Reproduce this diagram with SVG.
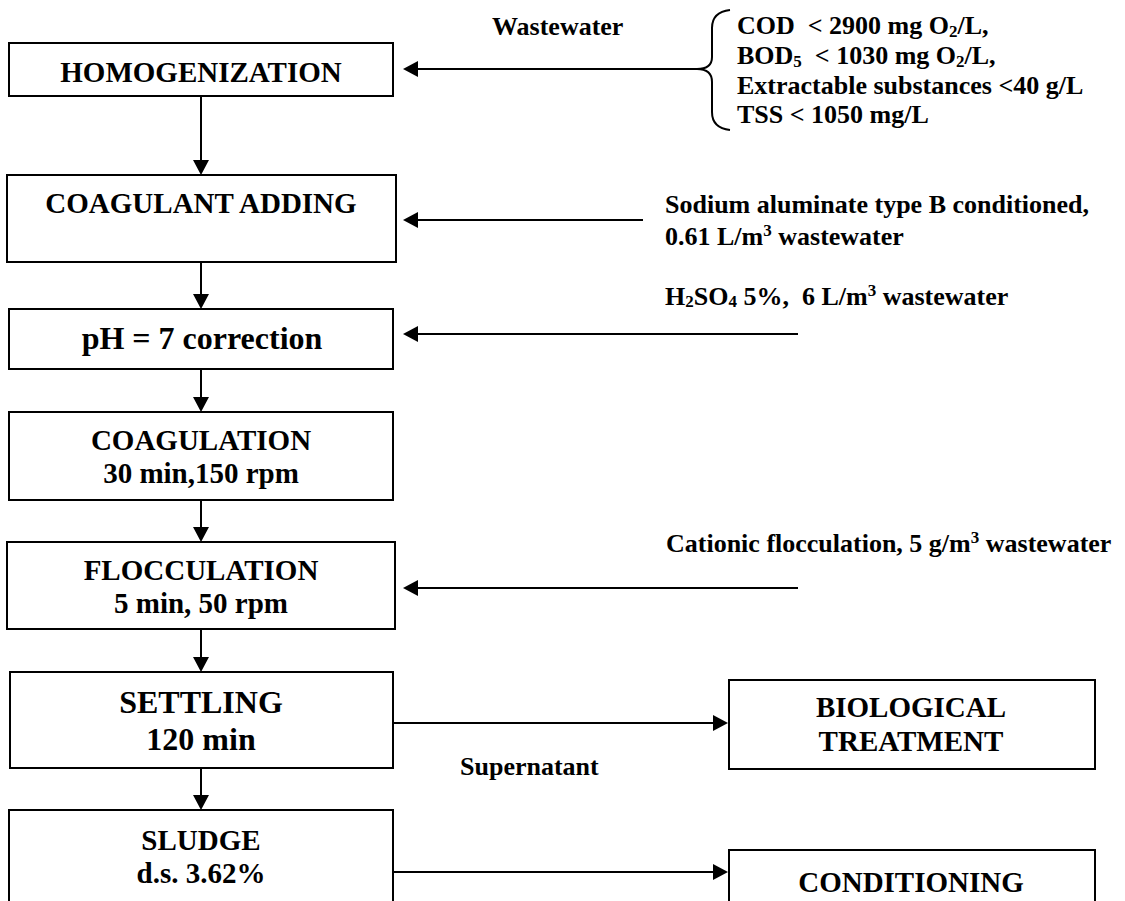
<svg xmlns="http://www.w3.org/2000/svg" width="1125" height="901" viewBox="0 0 1125 901">
<style>
text{font-family:"Liberation Serif","Times New Roman",serif;font-weight:bold;fill:#000;white-space:pre}
.box{fill:#fff;stroke:#000;stroke-width:2}
.n{font-size:29px;text-anchor:middle}
.big{font-size:32px;text-anchor:middle}
.lbl{font-size:26px}
.c{fill:none;stroke:#000;stroke-width:2}
.sub{font-size:17px}
</style>
<defs>
<marker id="ah" markerUnits="userSpaceOnUse" markerWidth="15" markerHeight="16" viewBox="0 0 15 16" refX="11" refY="8" orient="auto">
<path d="M0,0 L15,8 L0,16 Z" fill="#000"/>
</marker>
</defs>
<rect width="1125" height="901" fill="#fff"/>

<g id="connectors">
<line class="c" x1="201" y1="96" x2="201" y2="171" marker-end="url(#ah)"/>
<line class="c" x1="201" y1="262" x2="201" y2="305" marker-end="url(#ah)"/>
<line class="c" x1="201" y1="369" x2="201" y2="408" marker-end="url(#ah)"/>
<line class="c" x1="201" y1="500" x2="201" y2="538" marker-end="url(#ah)"/>
<line class="c" x1="201" y1="629" x2="201" y2="668" marker-end="url(#ah)"/>
<line class="c" x1="201" y1="768" x2="201" y2="806" marker-end="url(#ah)"/>
<line class="c" x1="697" y1="69" x2="407" y2="69" marker-end="url(#ah)"/>
<line class="c" x1="643" y1="220" x2="407" y2="220" marker-end="url(#ah)"/>
<line class="c" x1="798" y1="334" x2="407" y2="334" marker-end="url(#ah)"/>
<line class="c" x1="798" y1="588" x2="407" y2="588" marker-end="url(#ah)"/>
<line class="c" x1="393" y1="723" x2="724" y2="723" marker-end="url(#ah)"/>
<line class="c" x1="393" y1="872" x2="724" y2="872" marker-end="url(#ah)"/>
<path class="c" d="M730,10 Q712,12 712,28 L712,57 Q712,69 697,69 Q712,69 712,82 L712,112 Q712,128 730,130"/>
</g>

<g id="homogenization">
<rect class="box" x="9" y="43" width="384" height="53"/>
<text class="n" x="201" y="82">HOMOGENIZATION</text>
</g>
<g id="coagulant-adding">
<rect class="box" x="7" y="175" width="389" height="87"/>
<text class="n" x="201" y="213">COAGULANT ADDING</text>
</g>
<g id="ph-correction">
<rect class="box" x="9" y="309" width="384" height="60"/>
<text class="big" x="202" y="349">pH = 7 correction</text>
</g>
<g id="coagulation">
<rect class="box" x="9" y="412" width="384" height="88"/>
<text class="n" x="201" y="450">COAGULATION</text>
<text class="n" x="201" y="483">30 min,150 rpm</text>
</g>
<g id="flocculation">
<rect class="box" x="7" y="542" width="388" height="87"/>
<text class="n" x="201" y="580">FLOCCULATION</text>
<text class="n" x="201" y="613">5 min, 50 rpm</text>
</g>
<g id="settling">
<rect class="box" x="10" y="672" width="383" height="96"/>
<text class="big" x="201" y="713">SETTLING</text>
<text class="big" x="201" y="750">120 min</text>
</g>
<g id="sludge">
<rect class="box" x="9" y="810" width="384" height="100"/>
<text class="n" x="201" y="850">SLUDGE</text>
<text class="n" x="201" y="883">d.s. 3.62%</text>
</g>
<g id="biological-treatment">
<rect class="box" x="729" y="680" width="366" height="89"/>
<text class="n" x="911" y="717">BIOLOGICAL</text>
<text class="n" x="911" y="751">TREATMENT</text>
</g>
<g id="conditioning">
<rect class="box" x="729" y="850" width="366" height="60"/>
<text class="n" x="911" y="892">CONDITIONING</text>
</g>

<g id="labels">
<text class="lbl" x="492" y="35">Wastewater</text>
<text class="lbl" x="737" y="34">COD  &lt; 2900 mg O<tspan class="sub" dy="3">2</tspan><tspan dy="-3">/L,</tspan></text>
<text class="lbl" x="737" y="64">BOD<tspan class="sub" dy="3">5</tspan><tspan dy="-3">  &lt; 1030 mg O</tspan><tspan class="sub" dy="3">2</tspan><tspan dy="-3">/L,</tspan></text>
<text class="lbl" x="737" y="94">Extractable substances &lt;40 g/L</text>
<text class="lbl" x="737" y="123">TSS &lt; 1050 mg/L</text>
<text class="lbl" x="665" y="213">Sodium aluminate type B conditioned,</text>
<text class="lbl" x="665" y="245">0.61 L/m<tspan class="sub" dy="-9">3</tspan><tspan dy="9"> wastewater</tspan></text>
<text class="lbl" x="665" y="305">H<tspan class="sub" dy="2">2</tspan><tspan dy="-2">SO</tspan><tspan class="sub" dy="2">4</tspan><tspan dy="-2"> 5%,  6 L/m</tspan><tspan class="sub" dy="-9">3</tspan><tspan dy="9"> wastewater</tspan></text>
<text class="lbl" x="666" y="552">Cationic flocculation, 5 g/m<tspan class="sub" dy="-9">3</tspan><tspan dy="9"> wastewater</tspan></text>
<text class="lbl" x="460" y="775">Supernatant</text>
</g>
</svg>
